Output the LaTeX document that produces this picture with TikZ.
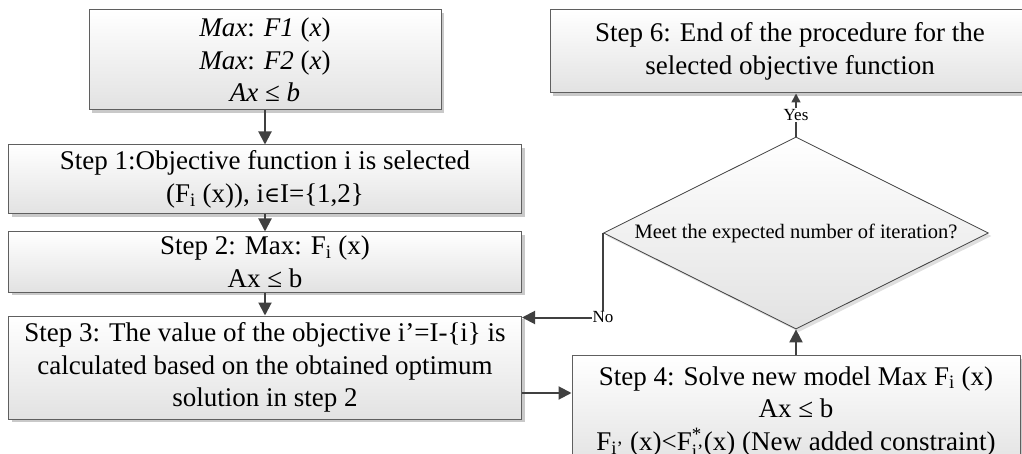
\documentclass[tikz,border=0pt]{standalone}
\usepackage{amsmath}
\usepackage{fontspec}
\setmainfont{Liberation Serif}
\newfontfamily\symfont[Scale=0.8]{DejaVu Serif}
\usepackage{xcolor}
\usepackage{tikz}
\usetikzlibrary{arrows.meta,positioning,shapes.geometric,shadows}
\definecolor{boxline}{HTML}{5F5F5F}
\definecolor{boxshade}{HTML}{E2E2E2}
\definecolor{arrcol}{HTML}{404040}
\definecolor{shadowcol}{HTML}{C9C9C9}
\newcommand{\stepfont}{\fontsize{27}{32.5}\selectfont}
\newcommand{\askfont}{\fontsize{20.5}{24}\selectfont}
\newcommand{\tagfont}{\fontsize{17}{20}\selectfont}

\begin{document}
\begin{tikzpicture}[
    x=1pt,y=1pt,
    font=\stepfont,
    box/.style={draw=boxline,line width=1pt,top color=white,bottom color=boxshade,
      drop shadow={shadow xshift=3pt,shadow yshift=-3pt,fill=shadowcol,opacity=1},
      align=center,inner sep=0pt},
    ask/.style={diamond,aspect=2,draw=arrcol,line width=0.8pt,top color=white,bottom color=boxshade,
      drop shadow={shadow xshift=3pt,shadow yshift=-3pt,fill=shadowcol,opacity=0.6},
      font=\askfont,inner sep=0pt,minimum width=385pt,minimum height=192pt},
    arr/.style={-{Triangle[width=13pt,length=13pt]},line width=2pt,draw=arrcol},
    thinarr/.style={-{Triangle[width=9pt,length=9pt]},line width=1.5pt,draw=arrcol},
    tag/.style={fill=white,inner sep=1pt,font=\tagfont}
  ]
  \useasboundingbox (0,0) rectangle (1022,-454);
  \node[box,minimum width=352pt,minimum height=100pt] (model) at (265,-60)
    {\textit{Max}: \textit{F1} (\textit{x})\\\textit{Max}: \textit{F2} (\textit{x})\\\textit{Ax} ≤ \textit{b}};
  \node[box,minimum width=513pt,minimum height=69pt,below=34pt of model] (step1)
    {Step 1:Objective function i is selected\\(F\textsubscript{i} (x)), i{\symfont ∈}I=\{1,2\}};
  \node[box,minimum width=513pt,minimum height=60pt,below=17pt of step1] (step2)
    {Step 2: Max: F\textsubscript{i} (x)\\Ax ≤ b};
  \node[box,minimum width=513pt,minimum height=103pt,below=23pt of step2] (step3)
    {Step 3: The value of the objective i’=I-\{i\} is\\calculated based on the obtained optimum\\solution in step 2};
  \node[box,minimum width=480pt,minimum height=83pt] (step6) at (790,-51.5)
    {Step 6: End of the procedure for the\\selected objective function};
  \node[ask] (check) at (796,-233) {Meet the expected number of iteration?};
  \node[box,minimum width=448pt,minimum height=112pt,below=26pt of check] (step4)
    {Step 4: Solve new model Max F\textsubscript{i} (x)\\Ax ≤ b\\F\textsubscript{i’} (x)<F$_{\text{i’}}^{\text{*}}$(x) (New added constraint)};
  \coordinate (s3out) at ([yshift=-25.5pt]step3.east);
  \draw[arr] (model) -- (step1);
  \draw[arr] (step1) -- (step2);
  \draw[arr] (step2) -- (step3);
  \draw[arr] (s3out) -- (s3out -| step4.west);
  \draw[arr] (step4) -- (check);
  \draw[thinarr] (check.north) -- node[tag]{Yes} (check.north |- step6.south);
  \draw[arr] (check.west) |- node[tag]{No} ([yshift=-2pt]step3.north east);
\end{tikzpicture}
\end{document}
